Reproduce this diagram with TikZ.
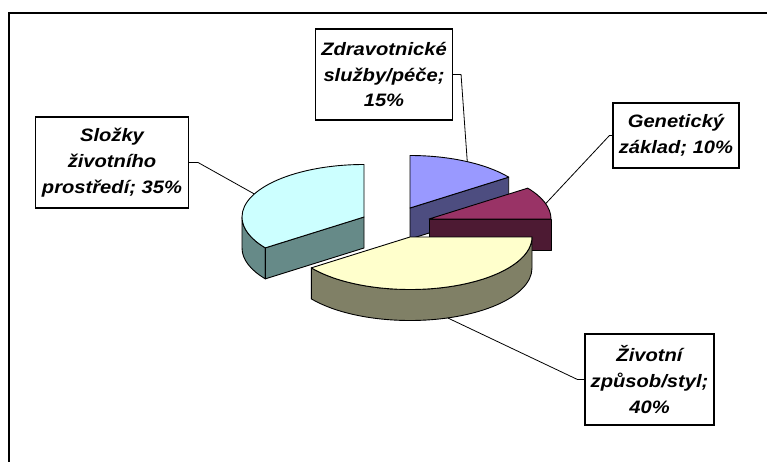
\documentclass[tikz,border=0pt]{standalone}
\usepackage{fontspec}
\usetikzlibrary{calc}
\newfontfamily\lblfont{Liberation Sans}[FakeStretch=1.12]
\definecolor{bluetop}{HTML}{9999FF}
\definecolor{blueside}{HTML}{4D4D80}
\definecolor{maroontop}{HTML}{993366}
\definecolor{maroonside}{HTML}{4D1A33}
\definecolor{cyantop}{HTML}{CCFFFF}
\definecolor{cyanside}{HTML}{668A88}
\definecolor{yellowtop}{HTML}{FFFFCC}
\definecolor{yellowside}{HTML}{808066}
\begin{document}
\begin{tikzpicture}[x=1pt,y=1pt,
  lbl/.style={draw=black, line width=1.1pt, fill=white, inner sep=0pt, align=center,
    font=\lblfont\bfseries\itshape\fontsize{18}{25.8}\selectfont},
  lead/.style={draw=black, line width=0.8pt},
  pieedge/.style={draw=black, line width=0.9pt, line join=round},
  ell/.style={x radius=122pt, y radius=52.5pt}]
\useasboundingbox (0,0) rectangle (767,461);
\fill[white] (0,0) rectangle (767,461);
% frame
\draw[line width=1.8pt] (9,-5) -- (9,448) -- (775,448);

% centres
\coordinate (cb) at (410,253);
\coordinate (cc) at (364,244);
\coordinate (cm) at (429,242);
\coordinate (cy) at (410,224);

% blue slice 36-90
\filldraw[pieedge, fill=blueside] (cb) -- ($(cb)+(36:122pt and 52.5pt)$) -- ++(0,-31) -- ($(cb)+(0,-31)$) -- cycle;
\filldraw[pieedge, fill=bluetop] (cb) -- ($(cb)+(36:122pt and 52.5pt)$) arc[start angle=36, end angle=90, ell] -- cycle;

% cyan slice 90-216
\filldraw[pieedge, fill=cyanside] ($(cc)+(180:122pt and 52.5pt)$) arc[start angle=180, end angle=216, ell] -- ++(0,-31) arc[start angle=216, end angle=180, ell] -- cycle;
\filldraw[pieedge, fill=cyanside] (cc) -- ($(cc)+(216:122pt and 52.5pt)$) -- ++(0,-31) -- ($(cc)+(0,-31)$) -- cycle;
\filldraw[pieedge, fill=cyantop] (cc) -- ($(cc)+(90:122pt and 52.5pt)$) arc[start angle=90, end angle=216, ell] -- cycle;

% maroon slice 0-36
\filldraw[pieedge, fill=maroonside] (cm) -- ($(cm)+(0:122pt and 52.5pt)$) -- ++(0,-31) -- ($(cm)+(0,-31)$) -- cycle;
\filldraw[pieedge, fill=maroontop] (cm) -- ($(cm)+(0:122pt and 52.5pt)$) arc[start angle=0, end angle=36, ell] -- cycle;

% yellow slice 216-360
\filldraw[pieedge, fill=yellowside] ($(cy)+(216:122pt and 52.5pt)$) arc[start angle=216, end angle=360, ell] -- ++(0,-31) arc[start angle=360, end angle=216, ell] -- cycle;
\filldraw[pieedge, fill=yellowtop] (cy) -- ($(cy)+(216:122pt and 52.5pt)$) arc[start angle=216, end angle=360, ell] -- cycle;

% leader anchor points
\coordinate (pc) at ($(cc)+(154:122pt and 52.5pt)$);
\coordinate (pb) at ($(cb)+(62:122pt and 52.5pt)$);
\coordinate (pm) at ($(cm)+(17:122pt and 52.5pt)$);
\coordinate (py) at ($(cy)+(0,-31)+(288:122pt and 52.5pt)$);

% labels
\node[lbl, minimum width=153pt, minimum height=91pt] (slozky) at (112,298.5) {Složky\\životního\\prostředí; 35\%};
\node[lbl, minimum width=137pt, minimum height=91pt] (zdrav) at (384,386.5) {Zdravotnické\\služby/péče;\\15\%};
\node[lbl, minimum width=126pt, minimum height=65pt] (gen) at (676,325.5) {Genetický\\základ; 10\%};
\node[lbl, minimum width=129pt, minimum height=91pt] (ziv) at (649.5,81.5) {Životní\\způsob/styl;\\40\%};

% leaders
\draw[lead] (slozky.east) -- ++(9,0) -- (pc);
\draw[lead] (zdrav.east) -- ++(8,0) -- (pb);
\draw[lead] (gen.west) -- ++(-3,0) -- (pm);
\draw[lead] (ziv.west) -- ++(-7,0) -- (py);
\end{tikzpicture}
\end{document}
